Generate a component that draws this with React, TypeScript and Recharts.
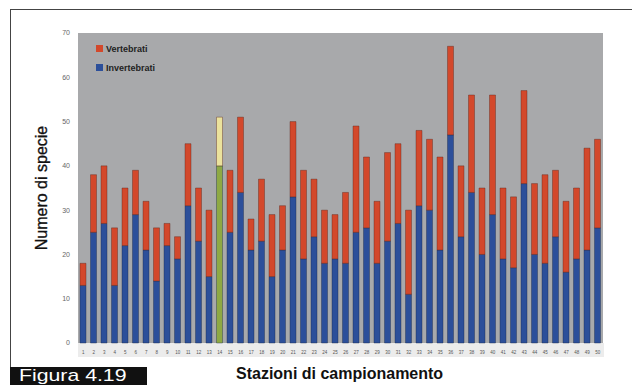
import React from 'react'
import { BarChart, Bar, XAxis, YAxis, CartesianGrid, Cell } from 'recharts'

const stations = [
  '1', '2', '3', '4', '5', '6', '7', '8', '9', '10',
  '11', '12', '13', '14', '15', '16', '17', '18', '19', '20',
  '21', '22', '23', '24', '25', '26', '27', '28', '29', '30',
  '31', '32', '33', '34', '35', '36', '37', '38', '39', '40',
  '41', '42', '43', '44', '45', '46', '47', '48', '49', '50',
]

const invertebrati = [
  13, 25, 27, 13, 22, 29, 21, 14, 22, 19,
  31, 23, 15, 40, 25, 34, 21, 23, 15, 21,
  33, 19, 24, 18, 19, 18, 25, 26, 18, 23,
  27, 11, 31, 30, 21, 47, 24, 34, 20, 29,
  19, 17, 36, 20, 18, 24, 16, 19, 21, 26,
]

const vertebrati = [
  5, 13, 13, 13, 13, 10, 11, 12, 5, 5,
  14, 12, 15, 11, 14, 17, 7, 14, 14, 10,
  17, 20, 13, 12, 10, 16, 24, 16, 14, 20,
  18, 19, 17, 16, 21, 20, 16, 22, 15, 27,
  16, 16, 21, 16, 20, 15, 16, 16, 23, 20,
]

const yTicks = [0, 10, 20, 30, 40, 50, 60, 70]

// stazione evidenziata nel grafico
const highlighted = '14'

const BLUE = '#2c4f9a'
const RED = '#d3482b'
const GREEN = '#8ea944'
const YELLOW = '#ebe29c'
const FONT = '"Liberation Sans", Arial, sans-serif'

const legendItems = [
  { label: 'Vertebrati', color: RED },
  { label: 'Invertebrati', color: BLUE },
]

const data = stations.map((s, i) => ({
  station: s,
  invertebrati: invertebrati[i],
  vertebrati: vertebrati[i],
}))

export default function App() {
  return (
    <div style={{ position: 'absolute', left: 0, top: 0, width: 632, height: 385, background: '#fff', fontFamily: FONT, overflow: 'hidden' }}>
      <div style={{ position: 'absolute', left: 10, top: 9, width: 622, height: 357, borderTop: '1.5px solid #444', borderLeft: '1.5px solid #444' }} />
      <div style={{ position: 'absolute', left: 78, top: 343, width: 526, height: 14, background: '#ececec' }} />
      <BarChart
        width={632}
        height={385}
        data={data}
        margin={{ top: 33, right: 29, bottom: 28, left: 58 }}
        barSize={6}
        style={{ position: 'absolute', left: 0, top: 0 }}
      >
        <CartesianGrid horizontal={false} vertical={false} fill="#a8a9ab" />
        <XAxis
          dataKey="station"
          interval={0}
          axisLine={false}
          tickLine={false}
          height={14}
          tick={{ fontSize: 4.5, fill: '#555' }}
        />
        <YAxis
          width={20}
          domain={[0, 70]}
          ticks={yTicks}
          axisLine={false}
          tickLine={false}
          tick={{ fontSize: 7, fill: '#666' }}
        />
        <Bar dataKey="invertebrati" name="Invertebrati" stackId="a" fill={BLUE} stroke="#1c2a4a" strokeWidth={0.4} isAnimationActive={false}>
          {data.map((d) => (
            <Cell key={d.station} fill={d.station === highlighted ? GREEN : BLUE} />
          ))}
        </Bar>
        <Bar dataKey="vertebrati" name="Vertebrati" stackId="a" fill={RED} stroke="#5a2418" strokeWidth={0.4} isAnimationActive={false}>
          {data.map((d) => (
            <Cell key={d.station} fill={d.station === highlighted ? YELLOW : RED} />
          ))}
        </Bar>
      </BarChart>
      <div style={{ position: 'absolute', left: 96, top: 39, fontSize: 9, fontWeight: 700, color: '#222' }}>
        {legendItems.map((it) => (
          <div key={it.label} style={{ display: 'flex', alignItems: 'center', height: 19 }}>
            <span style={{ width: 7, height: 7, background: it.color, marginRight: 3, display: 'inline-block' }} />
            {it.label}
          </div>
        ))}
      </div>
      <div style={{ position: 'absolute', left: 42, top: 188, width: 0, height: 0 }}>
        <div style={{ position: 'absolute', transform: 'translate(-50%, -50%) rotate(-90deg)', fontSize: 16, color: '#111', whiteSpace: 'nowrap', WebkitTextStroke: '0.3px #111' }}>
          Numero di specie
        </div>
      </div>
      <div style={{ position: 'absolute', left: 10, top: 367, width: 137, height: 18, background: '#111', color: '#fff', fontSize: 17, lineHeight: '18px', paddingLeft: 9, boxSizing: 'border-box', overflow: 'hidden' }}>
        <span style={{ display: 'inline-block', transform: 'scaleX(1.25)', transformOrigin: 'left center' }}>Figura 4.19</span>
      </div>
      <div style={{ position: 'absolute', left: 236, top: 365, fontSize: 16, fontWeight: 600, color: '#111', whiteSpace: 'nowrap' }}>
        Stazioni di campionamento
      </div>
    </div>
  )
}
